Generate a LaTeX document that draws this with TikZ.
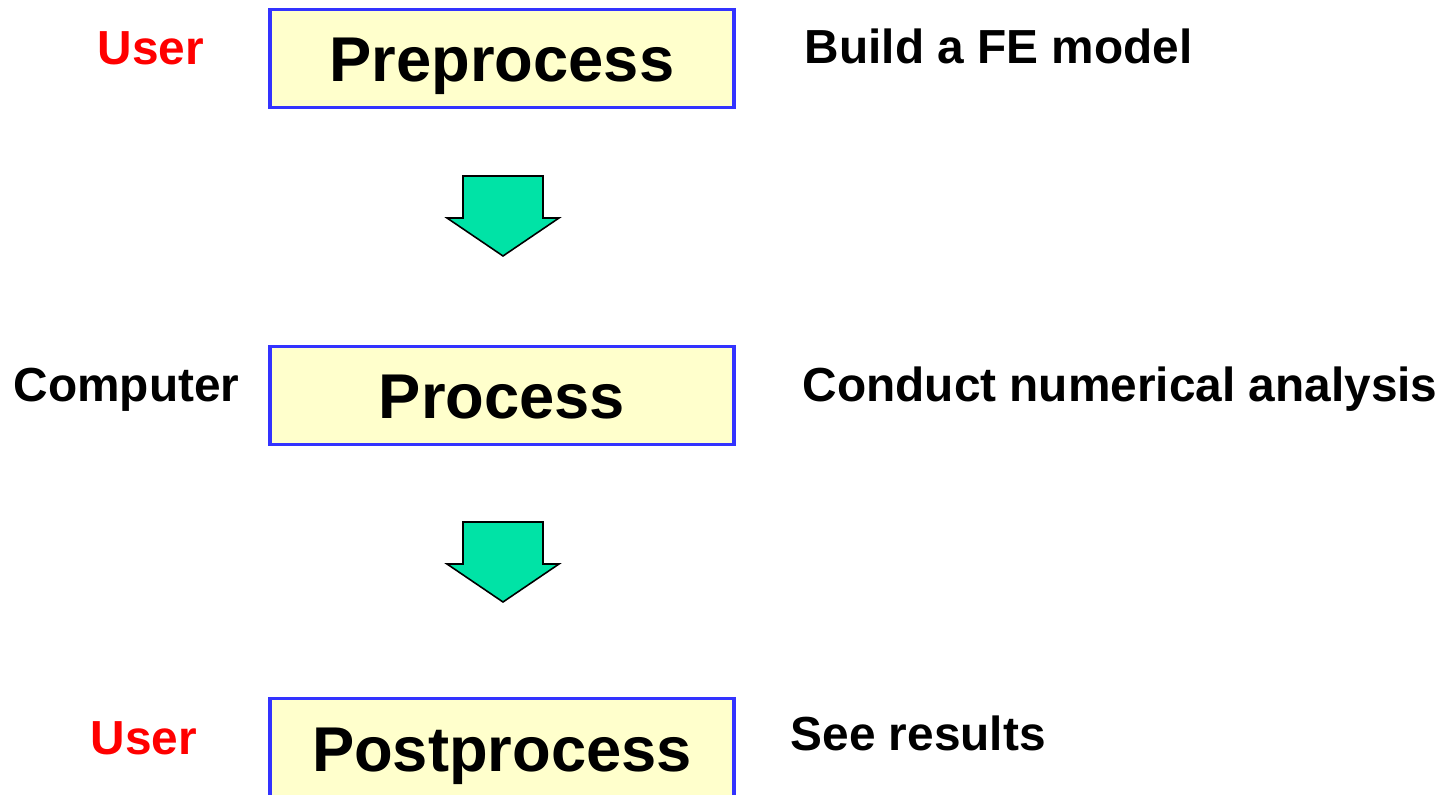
\documentclass[tikz,border=0pt]{standalone}
\usepackage{fontspec}
\setmainfont{Liberation Sans}
\usepackage{tikz}

\definecolor{boxfill}{HTML}{FFFFCC}
\definecolor{boxline}{HTML}{3333FF}
\definecolor{arrowfill}{HTML}{00E3A6}
\definecolor{userred}{HTML}{FF0000}

\tikzset{
  stage/.style={draw=boxline, fill=boxfill, line width=1.1pt, inner sep=0pt,
    minimum width=4.64cm, text height=0.725cm, text depth=0.255cm,
    font=\bfseries\fontsize{18}{20}\selectfont},
  side/.style={inner sep=0pt, anchor=base west, font=\bfseries\fontsize{13.6}{15}\selectfont},
  blockarrow/.style={draw=black, fill=arrowfill, line width=0.45pt, line join=miter}
}

\begin{document}
\begin{tikzpicture}
        \useasboundingbox (0,0) rectangle (14.5,-7.95);
        % stages
        \node[stage] (pre) at (5.02,-0.585) {Preprocess};
        \node[stage] (proc) at (5.02,-3.955) {Process};
        \node[stage] (post) at (5.02,-7.475) {Postprocess};
        % who does it
        \node[side, text=userred] (userA) at (0.97,-0.65) {User};
        \node[side] (comp) at (0.13,-4.02) {Computer};
        \node[side, text=userred] (userB) at (0.90,-7.54) {User};
        % what is done
        \node[side] (build) at (8.04,-0.64) {Build a FE model};
        \node[side] (conduct) at (8.02,-4.02) {Conduct numerical analysis};
        \node[side] (see) at (7.90,-7.51) {See results};
        % block arrows between stages
        \foreach \top in {-1.76,-5.22}
                \draw[blockarrow] (4.63,\top) -- (5.43,\top) -- (5.43,\top-0.42) -- (5.59,\top-0.42)
                        -- (5.03,\top-0.80) -- (4.47,\top-0.42) -- (4.63,\top-0.42) -- cycle;
\end{tikzpicture}
\end{document}
